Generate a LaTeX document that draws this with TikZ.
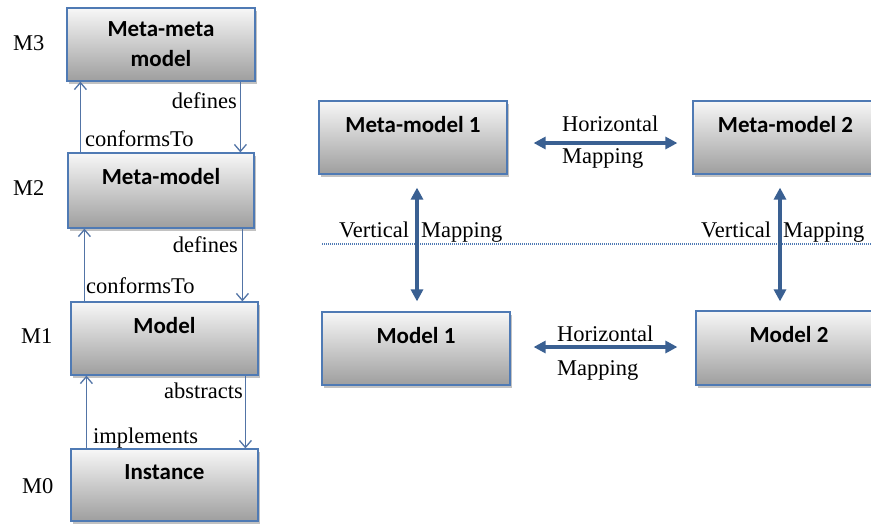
\documentclass[tikz,border=0pt]{standalone}
\usepackage{fontspec}
\setmainfont{Liberation Serif}
\newfontfamily\boxfont{Carlito}
\usetikzlibrary{arrows.meta,calc,shadows}
\definecolor{boxline}{RGB}{79,122,180}
\definecolor{linkblue}{RGB}{82,116,166}
\definecolor{mapblue}{RGB}{58,96,146}
\begin{document}
\begin{tikzpicture}[x=1pt,y=-1pt,
  box/.style={draw=boxline,line width=1.2pt,top color=black!3,bottom color=black!38,inner sep=0pt,
    font=\boxfont\bfseries\fontsize{23}{30}\selectfont,
    drop shadow={shadow xshift=2pt,shadow yshift=-2.5pt,fill=black!40,opacity=.6}},
  boxtext/.style={anchor=center,yshift=-24pt,inner sep=0pt,font=\boxfont\bfseries\fontsize{23}{26}\selectfont},
  lab/.style={inner sep=0pt,font=\fontsize{22.5}{26}\selectfont},
  link/.style={draw=linkblue,line width=1.3pt,-{Straight Barb[length=7pt,width=12pt]}},
  mapping/.style={draw=mapblue,line width=4pt,{Triangle[length=12pt,width=12pt]}-{Triangle[length=12pt,width=12pt]}}]
\useasboundingbox (0,0) rectangle (871,523);
\clip (0,0) rectangle (871,523);
% level stack on the left
\node[box,minimum width=188pt,minimum height=73pt,align=center] (mmm) at (161,44.5) {Meta-meta\\model};
\node[box,minimum width=186pt,minimum height=75pt,label={[boxtext]above:Meta-model}] (mm) at (161,190.5) {};
\node[box,minimum width=187pt,minimum height=73pt,label={[boxtext]above:Model}] (m) at (164.5,338.5) {};
\node[box,minimum width=187pt,minimum height=72pt,label={[boxtext]above:Instance}] (inst) at (164.5,485) {};
\node[lab,anchor=base west] (l3) at (13,50) {M3};
\node[lab,anchor=base west] (l2) at (13,195) {M2};
\node[lab,anchor=base west] (l1) at (21,343) {M1};
\node[lab,anchor=base west] (l0) at (22,493) {M0};
\draw[link] ($(mm.north west)+(13,0)$) -- ($(mmm.south west)+(14,0)$);
\draw[link] ($(mmm.south west)+(174,0)$) -- ($(mm.north west)+(173,0)$);
\draw[link] ($(m.north west)+(14,0)$) -- ($(mm.south west)+(17,0)$);
\draw[link] ($(mm.south west)+(175,0)$) -- ($(m.north west)+(172,0)$);
\draw[link] ($(inst.north west)+(16,0)$) -- ($(m.south west)+(16,0)$);
\draw[link] ($(m.south west)+(175,0)$) -- ($(inst.north west)+(175,0)$);
\node[lab,anchor=base east] (d3) at (237,108) {defines};
\node[lab,anchor=base west] (c3) at (85,146) {conformsTo};
\node[lab,anchor=base east] (d2) at (238,252) {defines};
\node[lab,anchor=base west] (c2) at (86,293) {conformsTo};
\node[lab,anchor=base east] (a1) at (243,398) {abstracts};
\node[lab,anchor=base west] (i1) at (93,443) {implements};
% mappings on the right
\node[box,minimum width=188pt,minimum height=73pt,label={[boxtext]above:Meta-model 1}] (mm1) at (413,137.5) {};
\node[box,minimum width=185pt,minimum height=73pt,label={[boxtext]above:Meta-model 2}] (mm2) at (785.5,137.5) {};
\node[box,minimum width=188pt,minimum height=73pt,label={[boxtext]above:Model 1}] (m1) at (416,348.5) {};
\node[box,minimum width=186pt,minimum height=74pt,label={[boxtext]above:Model 2}] (m2) at (789,348) {};
\draw[draw=boxline,line width=1.2pt,dash pattern=on 1pt off 1pt] (322,244) -- (871,244);
\draw[mapping,shorten <=26pt,shorten >=15pt] ([yshift=-5.5pt]mm1.east) -- ([yshift=-5.5pt]mm2.west);
\draw[mapping,shorten <=23pt,shorten >=18pt] ([yshift=1.5pt]m1.east) -- ([yshift=1pt]m2.west);
\draw[mapping,shorten <=13pt,shorten >=10pt] ([xshift=4pt]mm1.south) -- ([xshift=1pt]m1.north);
\draw[mapping,shorten <=13pt,shorten >=9pt] ([xshift=-5.5pt]mm2.south) -- ([xshift=-9pt]m2.north);
\node[lab,anchor=base west] (h1) at (562,131) {Horizontal};
\node[lab,anchor=base west] (p1) at (562,163) {Mapping};
\node[lab,anchor=base west] (h2) at (557,341) {Horizontal};
\node[lab,anchor=base west] (p2) at (557,375) {Mapping};
\node[lab,anchor=base west] (v1) at (339,237) {Vertical\hspace{12pt}Mapping};
\node[lab,anchor=base west] (v2) at (701,237) {Vertical\hspace{12pt}Mapping};
\end{tikzpicture}
\end{document}
